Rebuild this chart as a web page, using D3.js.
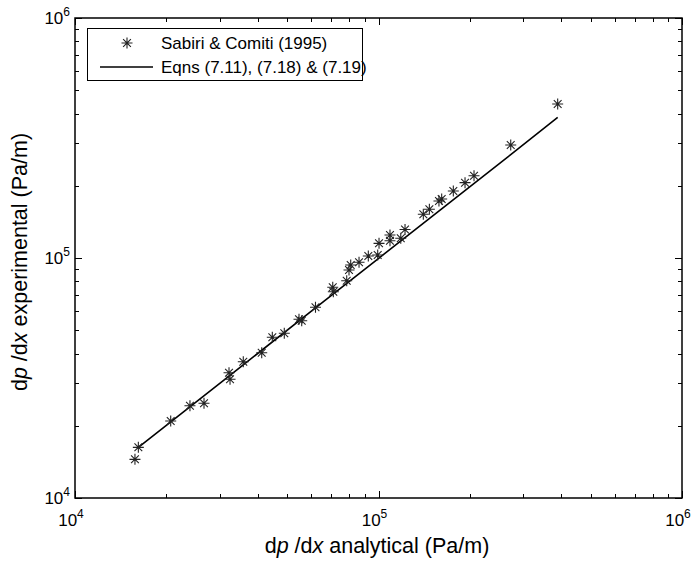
<!DOCTYPE html>
<html>
<head>
<meta charset="utf-8">
<script src="https://cdn.jsdelivr.net/npm/d3@7"></script>
<style>
  body { margin: 0; background: white; }
  svg { font-family: "Liberation Sans", Arial, sans-serif; }
</style>
</head>
<body>
<script>
// Sabiri & Comiti (1995) data (Pa/m)
const dataX = [15760, 16170, 20670, 23920, 26610, 32170, 32420, 35850, 41230, 44680,
               48930, 54710, 55850, 62000, 70670, 70990, 78570, 79950, 80990, 86270,
               92560, 99400, 100400, 109100, 109100, 118400, 122300, 140500, 147100, 158200,
               161500, 176400, 192800, 206400, 272700, 389400];
const dataY = [14490, 16260, 20940, 24240, 24810, 33270, 31230, 36980, 40310, 46730,
               48560, 55530, 54800, 62370, 75510, 72380, 80400, 89130, 93500, 95940,
               101900, 102900, 115100, 118000, 124700, 120800, 131500, 152100, 159600, 172800,
               176200, 190200, 206000, 220300, 295700, 438300];

// Eqns (7.11), (7.18) & (7.19)
const lineX = [16170, 32400, 62000, 99400, 161500, 272700, 389400];
const lineY = [16260, 32450, 61900, 99000, 160300, 269700, 385500];

const legendLabels = ["Sabiri & Comiti (1995)", "Eqns (7.11), (7.18) & (7.19)"];
const decades = [4, 5, 6];

const W = 696, H = 563;
const m = {left: 75, right: 682, top: 18, bottom: 498};

const svg = d3.select("body").append("svg")
    .attr("width", W)
    .attr("height", H);

const x = d3.scaleLog().domain([1e4, 1e6]).range([m.left, m.right]);
const y = d3.scaleLog().domain([1e4, 1e6]).range([m.bottom, m.top]);

// tick positions: majors at decades, minors at 2..9
const minorVals = [];
for (let d = 4; d < 6; d++) {
    for (let k = 2; k <= 9; k++) minorVals.push(k * Math.pow(10, d));
}
const majorVals = decades.map(d => Math.pow(10, d));

const tickG = svg.append("g").attr("stroke", "black").attr("stroke-width", 1);
function addTicks(vals, len) {
    vals.forEach(v => {
        const px = Math.round(x(v)) + 0.5, py = Math.round(y(v)) + 0.5;
        tickG.append("line").attr("x1", px).attr("x2", px).attr("y1", m.bottom).attr("y2", m.bottom - len);
        tickG.append("line").attr("x1", px).attr("x2", px).attr("y1", m.top).attr("y2", m.top + len);
        tickG.append("line").attr("x1", m.left).attr("x2", m.left + len).attr("y1", py).attr("y2", py);
        tickG.append("line").attr("x1", m.right).attr("x2", m.right - len).attr("y1", py).attr("y2", py);
    });
}
addTicks(minorVals, 4);
addTicks(majorVals, 7);

// box
svg.append("rect")
    .attr("x", m.left).attr("y", m.top)
    .attr("width", m.right - m.left).attr("height", m.bottom - m.top)
    .attr("fill", "none").attr("stroke", "black").attr("stroke-width", 1.5);

// tick labels 10^n
function powLabel(g, n) {
    g.append("tspan").text("10");
    g.append("tspan").attr("dy", -8).attr("font-size", 12).text(n);
}
decades.forEach(d => {
    const t = svg.append("text")
        .attr("x", x(Math.pow(10, d)) - 4)
        .attr("y", m.bottom + 28)
        .attr("text-anchor", "middle")
        .attr("font-size", 17);
    powLabel(t, d);
    const t2 = svg.append("text")
        .attr("x", m.left - 5)
        .attr("y", y(Math.pow(10, d)) + 6)
        .attr("text-anchor", "end")
        .attr("font-size", 17);
    powLabel(t2, d);
});

// axis labels
function axisLabel(t, word) {
    t.append("tspan").text("d");
    t.append("tspan").attr("font-style", "italic").text("p");
    t.append("tspan").text(" /d");
    t.append("tspan").attr("font-style", "italic").text("x");
    t.append("tspan").text(" " + word + " (Pa/m)");
}
axisLabel(svg.append("text")
    .attr("x", 377)
    .attr("y", 553)
    .attr("text-anchor", "middle")
    .attr("font-size", 21.5), "analytical");
axisLabel(svg.append("text")
    .attr("transform", `translate(27,${(m.top + m.bottom) / 2 + 4}) rotate(-90)`)
    .attr("text-anchor", "middle")
    .attr("font-size", 21.5), "experimental");

// model line
const line = d3.line().x(d => x(d[0])).y(d => y(d[1]));
svg.append("path")
    .datum(d3.zip(lineX, lineY))
    .attr("d", line)
    .attr("fill", "none")
    .attr("stroke", "black")
    .attr("stroke-width", 1.6);

// asterisk marker
const r = 5.5;
const d45 = r * Math.SQRT1_2;
const starPath = `M${-r},0H${r}M0,${-r}V${r}M${-d45},${-d45}L${d45},${d45}M${-d45},${d45}L${d45},${-d45}`;

svg.append("g").selectAll("path")
    .data(d3.zip(dataX, dataY))
    .join("path")
    .attr("transform", d => `translate(${x(d[0])},${y(d[1])})`)
    .attr("d", starPath)
    .attr("fill", "none")
    .attr("stroke", "#222")
    .attr("stroke-width", 1.1);

// legend
const lg = svg.append("g");
lg.append("rect")
    .attr("x", 87.5).attr("y", 28.5)
    .attr("width", 275).attr("height", 52)
    .attr("fill", "white").attr("stroke", "black").attr("stroke-width", 1);
lg.append("path")
    .attr("transform", "translate(127,43)")
    .attr("d", starPath)
    .attr("fill", "none")
    .attr("stroke", "#222")
    .attr("stroke-width", 1.1);
lg.append("line")
    .attr("x1", 100).attr("x2", 153).attr("y1", 67).attr("y2", 67)
    .attr("stroke", "black").attr("stroke-width", 1.6);
legendLabels.forEach((s, i) => {
    lg.append("text")
        .attr("x", 161)
        .attr("y", 49 + i * 24)
        .attr("font-size", 17)
        .text(s);
});
</script>
</body>
</html>
